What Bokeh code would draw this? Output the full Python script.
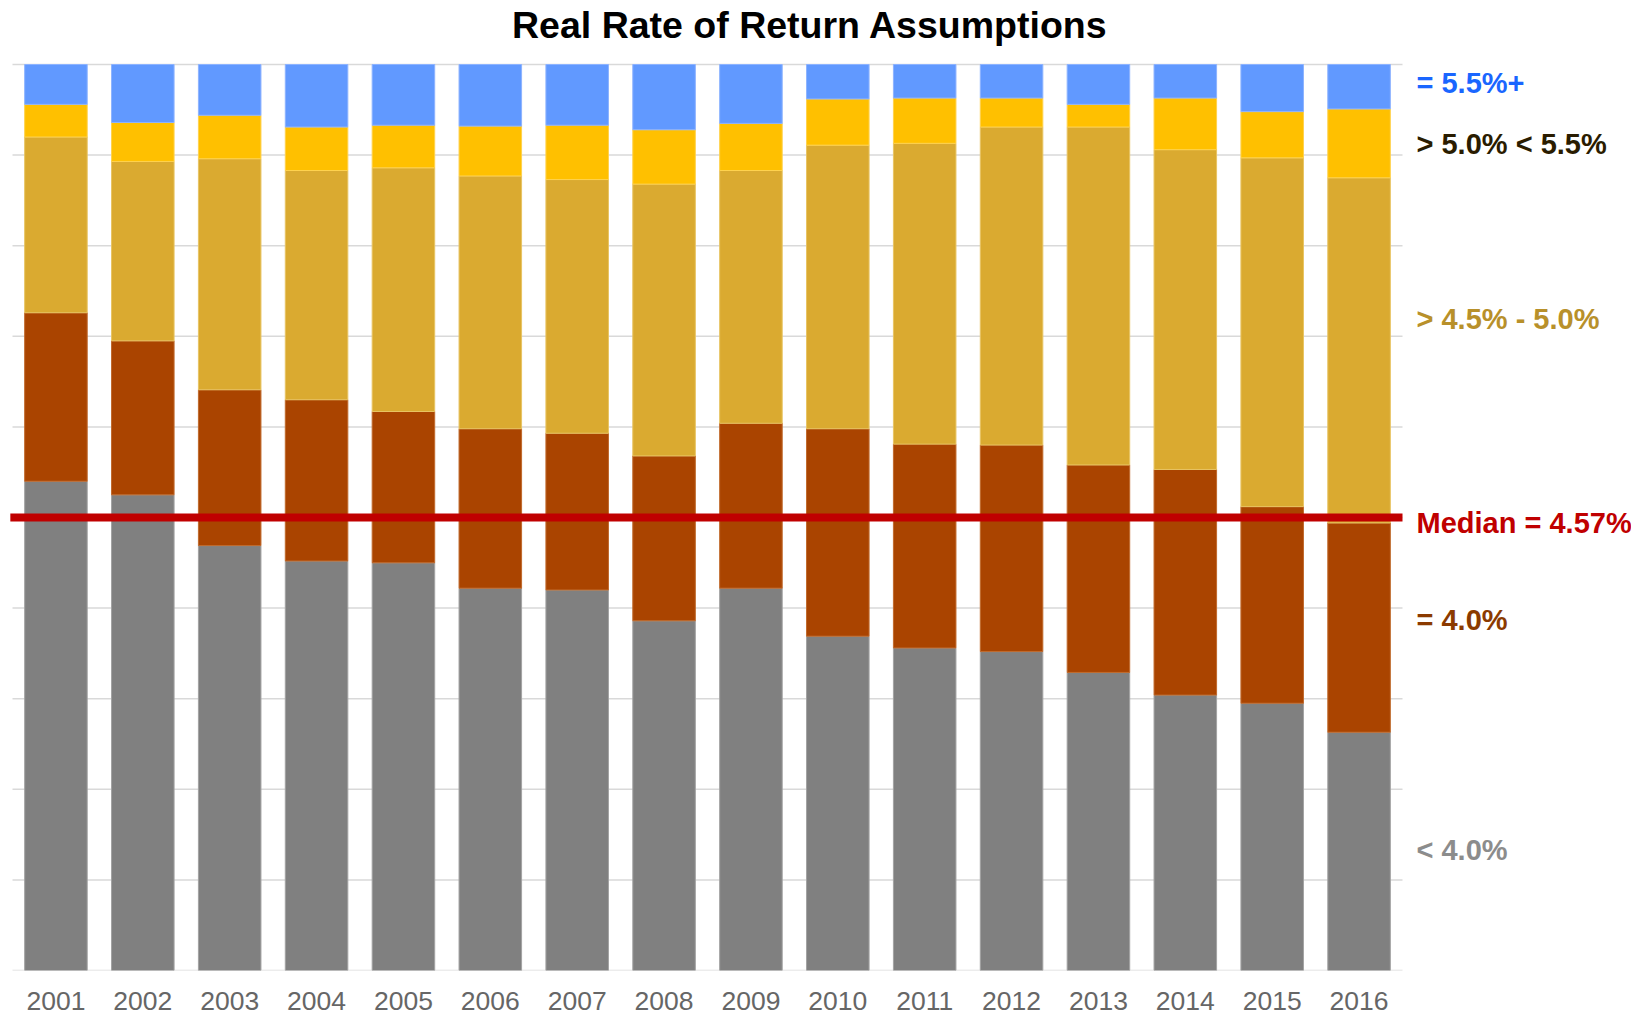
from bokeh.plotting import figure
from bokeh.models import Range1d, Label, FixedTicker, ColumnDataSource
from bokeh.embed import file_html
from bokeh.resources import INLINE

years = ["2001", "2002", "2003", "2004", "2005", "2006", "2007", "2008",
         "2009", "2010", "2011", "2012", "2013", "2014", "2015", "2016"]

below_4_0 = [54.0, 52.5, 46.9, 45.2, 45.0, 42.2, 42.0, 38.6,
             42.2, 36.9, 35.6, 35.2, 32.9, 30.4, 29.5, 26.3]
eq_4_0 = [18.6, 17.0, 17.2, 17.8, 16.7, 17.6, 17.3, 18.2,
          18.2, 22.9, 22.5, 22.8, 22.9, 24.9, 21.7, 23.1]
gt_4_5_to_5_0 = [19.4, 19.8, 25.5, 25.3, 26.9, 27.9, 28.0, 30.0,
                 27.9, 31.3, 33.2, 35.1, 37.3, 35.3, 38.5, 38.1]
gt_5_0_lt_5_5 = [3.6, 4.3, 4.8, 4.8, 4.7, 5.5, 6.0, 6.0,
                 5.2, 5.1, 5.0, 3.2, 2.5, 5.7, 5.1, 7.6]
eq_5_5_plus = [4.4, 6.4, 5.6, 6.9, 6.7, 6.8, 6.7, 7.2,
               6.5, 3.8, 3.7, 3.7, 4.4, 3.7, 5.2, 4.9]

grid_ticks = [0, 10, 20, 30, 40, 50, 60, 70, 80, 90, 100]
median_position = 50.0
series_labels = ["< 4.0%", "= 4.0%", "> 4.5% - 5.0%", "> 5.0% < 5.5%", "= 5.5%+"]
label_y = [13.25, 38.7, 71.9, 91.25, 98.0]
median_label = "Median = 4.57%"
median_label_y = 49.35
title_text = "Real Rate of Return Assumptions"
title_y = 104.36

stack_names = ["below_4_0", "eq_4_0", "gt_4_5_to_5_0", "gt_5_0_lt_5_5", "eq_5_5_plus"]
fill_colors = ["#808080", "#AA4400", "#DAAA30", "#FFC000", "#6199FF"]
edge_colors = ["#a3a3a3", "#c06a2c", "#e8c463", "#ffd24d", "#8db3ff"]
text_colors = ["#8c8c8c", "#8B3A00", "#B8902A", "#2A1C00", "#1A66FF"]

n = len(years)
xpos = [i + 0.5 for i in range(n)]

source = ColumnDataSource(dict(
    x=xpos,
    year=years,
    below_4_0=below_4_0,
    eq_4_0=eq_4_0,
    gt_4_5_to_5_0=gt_4_5_to_5_0,
    gt_5_0_lt_5_5=gt_5_0_lt_5_5,
    eq_5_5_plus=eq_5_5_plus,
))

W, H = 1631, 1016
FRAME_H = 970
px_per_cat = 86.875
left_pad = 12.0
pct_px = 9.06

p = figure(width=W, height=H, title=None,
           x_range=Range1d(-left_pad / px_per_cat, (W - left_pad) / px_per_cat),
           y_range=Range1d(0, FRAME_H / pct_px),
           output_backend="svg", toolbar_location=None,
           y_axis_location=None,
           min_border_left=0, min_border_right=0,
           min_border_top=0, min_border_bottom=H - FRAME_H)

p.outline_line_color = None
p.grid.grid_line_color = None
p.background_fill_color = "white"
p.border_fill_color = "white"

# horizontal gridlines across the bar area only
p.segment(x0=0, x1=n, y0=grid_ticks, y1=grid_ticks,
          line_color="#d9d9d9", line_width=1.5)

p.vbar_stack(stack_names, x="x", width=0.72, source=source,
             fill_color=fill_colors, line_color=edge_colors, line_width=1)

# median line
p.segment(x0=-0.025, x1=n, y0=median_position, y1=median_position,
          line_color="#C00000", line_width=8, line_cap="butt")

ax = p.xaxis[0]
ax.ticker = FixedTicker(ticks=xpos)
ax.major_label_overrides = {x: y for x, y in zip(xpos, years)}
ax.axis_line_color = None
ax.major_tick_line_color = None
ax.minor_tick_line_color = None
ax.major_label_standoff = 15
ax.major_label_text_font = "Liberation Sans"
ax.major_label_text_font_size = "26.5px"
ax.major_label_text_color = "#666666"

label_x = (1416 - left_pad) / px_per_cat
for txt, yy, col in zip(series_labels, label_y, text_colors):
    p.add_layout(Label(x=label_x, y=yy, text=txt, text_font="Liberation Sans",
                       text_font_style="bold", text_font_size="29px",
                       text_color=col, text_baseline="middle", text_align="left"))

p.add_layout(Label(x=label_x, y=median_label_y, text=median_label, text_font="Liberation Sans",
                   text_font_style="bold", text_font_size="29px",
                   text_color="#C00000", text_baseline="middle", text_align="left"))

p.add_layout(Label(x=(809.5 - left_pad) / px_per_cat, y=title_y, text=title_text,
                   text_font="Liberation Sans", text_font_style="bold", text_font_size="37.5px",
                   text_color="#000000", text_baseline="middle", text_align="center"))

open("out.html", "w").write(file_html(p, INLINE))
